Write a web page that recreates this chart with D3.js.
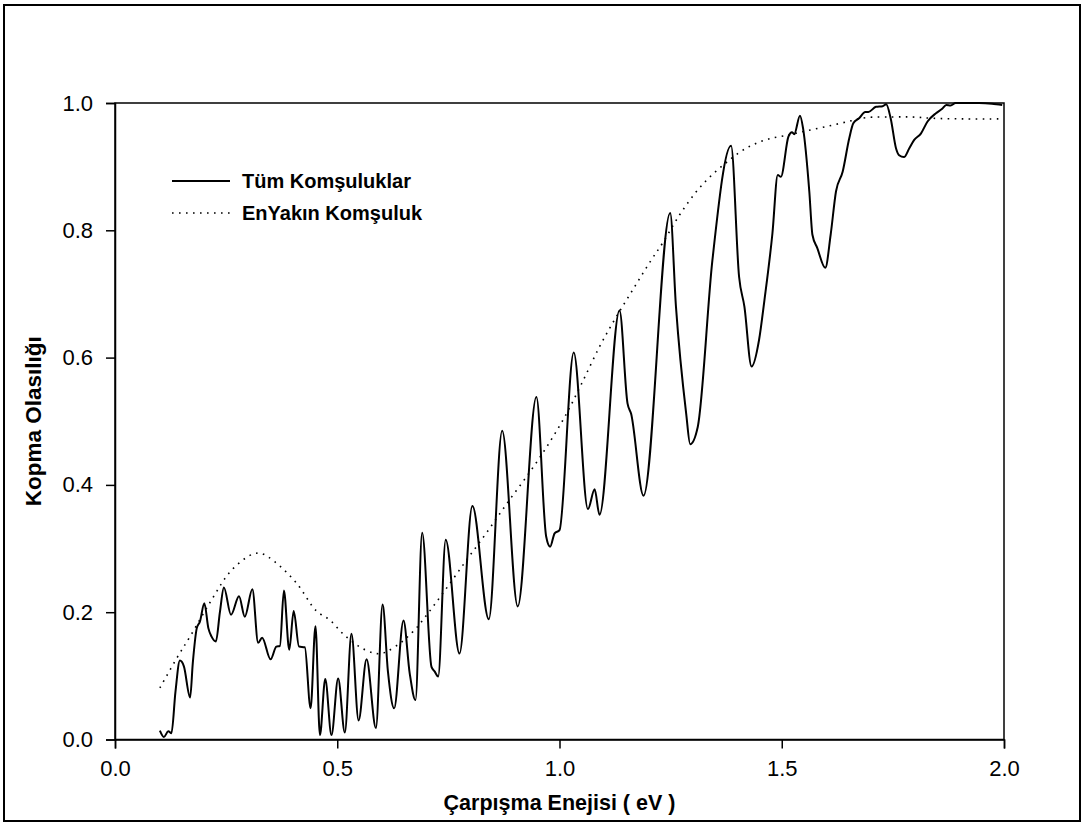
<!DOCTYPE html>
<html>
<head>
<meta charset="utf-8">
<script src="https://cdn.jsdelivr.net/npm/d3@7"></script>
<style>
  html, body { margin: 0; padding: 0; background: #fff; }
  svg { display: block; font-family: Arial, "Liberation Sans", Helvetica, sans-serif; }
</style>
</head>
<body>
<svg id="chart" width="1085" height="826"></svg>
<script>
// Collision energy (eV) and breakup probability, all-neighbour model
const allEnergy = [0.101,0.110,0.120,0.127,0.136,0.146,0.155,0.169,0.175,0.184,0.191,0.201,0.210,0.217,0.227,0.236,0.245,0.261,0.279,0.292,0.309,0.322,0.331,0.350,0.363,0.371,0.380,0.392,0.402,0.414,0.427,0.440,0.451,0.461,0.473,0.487,0.502,0.517,0.532,0.548,0.566,0.587,0.602,0.614,0.628,0.649,0.663,0.676,0.691,0.712,0.719,0.727,0.744,0.775,0.804,0.841,0.871,0.906,0.948,0.970,0.979,0.989,1.000,1.032,1.064,1.079,1.090,1.135,1.153,1.161,1.189,1.249,1.262,1.285,1.294,1.311,1.344,1.386,1.404,1.416,1.432,1.449,1.461,1.479,1.491,1.498,1.515,1.523,1.528,1.541,1.548,1.562,1.569,1.580,1.598,1.610,1.622,1.637,1.652,1.661,1.674,1.688,1.695,1.712,1.727,1.735,1.745,1.757,1.764,1.775,1.787,1.798,1.813,1.828,1.847,1.861,1.870,1.880,1.891,1.944,1.973,1.996];
const allProb = [0.014,0.004,0.013,0.010,0.075,0.124,0.115,0.066,0.120,0.175,0.185,0.214,0.175,0.162,0.154,0.200,0.239,0.196,0.225,0.193,0.236,0.152,0.160,0.126,0.146,0.147,0.234,0.141,0.202,0.146,0.145,0.049,0.178,0.007,0.095,0.007,0.096,0.011,0.166,0.030,0.126,0.018,0.212,0.107,0.049,0.187,0.104,0.062,0.325,0.114,0.107,0.099,0.314,0.135,0.367,0.189,0.485,0.209,0.538,0.319,0.303,0.324,0.329,0.608,0.362,0.393,0.353,0.674,0.528,0.512,0.383,0.827,0.680,0.512,0.464,0.491,0.753,0.933,0.727,0.680,0.586,0.628,0.690,0.795,0.887,0.884,0.947,0.954,0.951,0.980,0.960,0.861,0.793,0.772,0.741,0.793,0.861,0.892,0.945,0.968,0.976,0.986,0.986,0.994,0.995,0.998,0.976,0.929,0.918,0.915,0.929,0.942,0.952,0.971,0.984,0.991,0.997,0.996,1.000,1.000,0.999,0.997];

// Nearest-neighbour model
const nearEnergy = [0.101,0.140,0.169,0.217,0.261,0.309,0.330,0.360,0.408,0.453,0.483,0.513,0.547,0.580,0.598,0.614,0.648,0.679,0.706,0.742,0.790,0.837,0.884,0.933,0.976,1.015,1.049,1.090,1.126,1.167,1.208,1.232,1.270,1.307,1.337,1.371,1.404,1.434,1.468,1.509,1.554,1.607,1.656,1.689,1.749,1.794,1.839,1.914,1.989];
const nearProb = [0.081,0.129,0.162,0.219,0.265,0.291,0.292,0.279,0.246,0.202,0.188,0.166,0.147,0.136,0.135,0.139,0.155,0.176,0.200,0.234,0.281,0.326,0.373,0.420,0.465,0.511,0.558,0.617,0.662,0.709,0.755,0.780,0.824,0.860,0.883,0.904,0.922,0.934,0.943,0.949,0.956,0.964,0.972,0.977,0.978,0.978,0.976,0.975,0.975];

const xTicks = [0.0, 0.5, 1.0, 1.5, 2.0];
const yTicks = [0.0, 0.2, 0.4, 0.6, 0.8, 1.0];
const seriesNames = ["Tüm Komşuluklar", "EnYakın Komşuluk"];
const xTitle = "Çarpışma Enejisi ( eV )";
const yTitle = "Kopma Olasılığı";

const svg = d3.select("#chart");
const plot = { left: 115, right: 1004, top: 103, bottom: 739.5 };

const x = d3.scaleLinear().domain([0, 2]).range([plot.left, plot.right]);
const y = d3.scaleLinear().domain([0, 1]).range([plot.bottom, plot.top]);

// outer frame
svg.append("rect")
  .attr("x", 4).attr("y", 5).attr("width", 1076).attr("height", 816)
  .attr("fill", "none").attr("stroke", "#000").attr("stroke-width", 2);

// plot box
svg.append("rect")
  .attr("x", plot.left).attr("y", plot.top)
  .attr("width", plot.right - plot.left).attr("height", plot.bottom - plot.top)
  .attr("fill", "none").attr("stroke", "#000").attr("stroke-width", 1.5);

const fmt = d3.format(".1f");

const xAxis = svg.append("g")
  .attr("transform", `translate(0,${plot.bottom})`)
  .call(d3.axisBottom(x).tickValues(xTicks).tickFormat(fmt).tickSize(9).tickPadding(12));
const yAxis = svg.append("g")
  .attr("transform", `translate(${plot.left},0)`)
  .call(d3.axisLeft(y).tickValues(yTicks).tickFormat(fmt).tickSize(9).tickPadding(13));

[xAxis, yAxis].forEach(g => {
  g.select(".domain").attr("stroke", "#000").attr("stroke-width", 1.5);
  g.selectAll(".tick line").attr("stroke", "#000").attr("stroke-width", 1.5);
  g.selectAll(".tick text")
    .attr("fill", "#000")
    .style("font-family", "Arial, 'Liberation Sans', sans-serif")
    .style("font-size", "22px");
});

// axis titles
svg.append("text")
  .attr("x", (plot.left + plot.right) / 2).attr("y", 810)
  .attr("text-anchor", "middle")
  .style("font-size", "21.5px").style("font-weight", "bold")
  .text(xTitle);

svg.append("text")
  .attr("transform", `translate(41,${(plot.top + plot.bottom) / 2}) rotate(-90)`)
  .attr("text-anchor", "middle")
  .style("font-size", "22.5px").style("font-weight", "bold")
  .text(yTitle);

// curves
svg.append("clipPath").attr("id", "plot-clip")
  .append("rect")
  .attr("x", plot.left).attr("y", plot.top - 2)
  .attr("width", plot.right - plot.left).attr("height", plot.bottom - plot.top + 2);

const line = d3.line()
  .x(d => x(d[0]))
  .y(d => y(d[1]));

const nearData = d3.zip(nearEnergy, nearProb);
const allData = d3.zip(allEnergy, allProb);

svg.append("path")
  .datum(nearData)
  .attr("clip-path", "url(#plot-clip)")
  .attr("d", line.curve(d3.curveCatmullRom.alpha(0.5)))
  .attr("fill", "none").attr("stroke", "#000")
  .attr("stroke-width", 1.6)
  .attr("stroke-dasharray", "1.6,5.4");

svg.append("path")
  .datum(allData)
  .attr("clip-path", "url(#plot-clip)")
  .attr("d", line.curve(d3.curveMonotoneX))
  .attr("fill", "none").attr("stroke", "#000")
  .attr("stroke-width", 2)
  .attr("stroke-linejoin", "round");

// legend
const legend = svg.append("g");
const legendRows = [
  { name: seriesNames[0], dash: null, width: 2, y: 181 },
  { name: seriesNames[1], dash: "1.6,5.4", width: 1.6, y: 213 }
];
legendRows.forEach(r => {
  legend.append("line")
    .attr("x1", 172).attr("x2", 230).attr("y1", r.y).attr("y2", r.y)
    .attr("stroke", "#000").attr("stroke-width", r.width)
    .attr("stroke-dasharray", r.dash);
  legend.append("text")
    .attr("x", 242).attr("y", r.y + 7)
    .style("font-size", "20px").style("font-weight", "bold")
    .text(r.name);
});
</script>
</body>
</html>
